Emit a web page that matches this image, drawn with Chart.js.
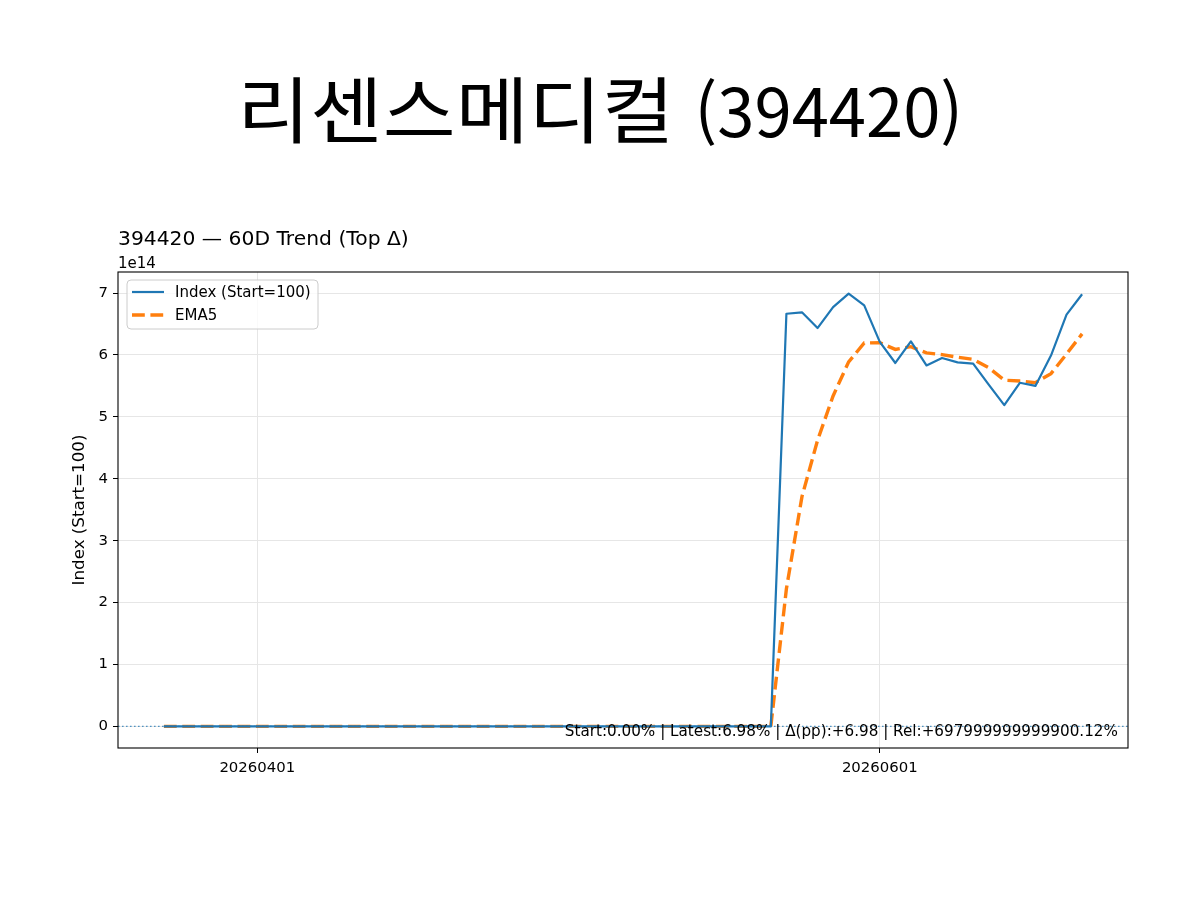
<!DOCTYPE html>
<html lang="ko">
<head>
<meta charset="utf-8">
<title>리센스메디컬 (394420)</title>
<script src="https://cdn.jsdelivr.net/npm/chart.js@4.4.1/dist/chart.umd.min.js"></script>
<style>
  html, body { margin: 0; padding: 0; background: #fff; }
  #wrap { position: relative; width: 1200px; height: 900px; overflow: hidden; }
  #chart { position: absolute; left: 0; top: 0; }
  #bigTitle {
    position: absolute; left: 0; top: 70px; width: 1200px; margin: 0;
    text-align: center; font-family: "Noto Sans CJK KR", sans-serif;
    font-weight: normal; font-size: 72px; line-height: 1; color: #000;
    white-space: nowrap;
  }
  #bigTitle .ko { display: inline-block; transform: scaleX(1.1); margin: 0 20px; }
  #bigTitle .num { font-size: 67px; }
</style>
</head>
<body>
<div id="wrap">
  <canvas id="chart" width="1200" height="900"></canvas>
  <h1 id="bigTitle"><span class="ko">리센스메디컬</span> <span class="num">(394420)</span></h1>
</div>
<script>
// trading days shown on the x axis
const dates = [
  '20260324', '20260325', '20260326', '20260327', '20260330', '20260331',
  '20260401', '20260402', '20260403', '20260406', '20260407', '20260408',
  '20260409', '20260410', '20260413', '20260414', '20260415', '20260416',
  '20260417', '20260420', '20260421', '20260422', '20260423', '20260424',
  '20260427', '20260428', '20260429', '20260430', '20260504', '20260506',
  '20260507', '20260508', '20260511', '20260512', '20260513', '20260514',
  '20260515', '20260518', '20260519', '20260520', '20260521', '20260522',
  '20260526', '20260527', '20260528', '20260529', '20260601', '20260602',
  '20260604', '20260605', '20260608', '20260609', '20260610', '20260611',
  '20260612', '20260615', '20260616', '20260617', '20260618', '20260619'
];
const tickDates = ['20260401', '20260601'];

const indexValues = [
  100, 100, 100, 100, 100, 100, 100, 100, 100, 100,
  100, 100, 100, 100, 100, 100, 100, 100, 100, 100,
  100, 100, 100, 100, 100, 100, 100, 100, 100, 100,
  100, 100, 100, 100, 100, 100, 100, 100, 100, 100,
  6.665e14, 6.688e14, 6.434e14, 6.773e14, 6.989e14, 6.80e14, 6.21e14, 5.87e14, 6.22e14, 5.83e14,
  5.95e14, 5.88e14, 5.86e14, 5.52e14, 5.19e14, 5.55e14, 5.50e14, 5.99e14, 6.65e14, 6.98e14
];
const ema5Values = [
  100, 100, 100, 100, 100, 100, 100, 100, 100, 100,
  100, 100, 100, 100, 100, 100, 100, 100, 100, 100,
  100, 100, 100, 100, 100, 100, 100, 100, 100, 100,
  100, 100, 100, 100, 100, 100, 100, 100, 100, 100,
  2.222e14, 3.711e14, 4.619e14, 5.337e14, 5.888e14, 6.192e14, 6.198e14, 6.089e14, 6.133e14, 6.032e14,
  6.005e14, 5.963e14, 5.929e14, 5.793e14, 5.592e14, 5.578e14, 5.552e14, 5.698e14, 6.015e14, 6.340e14
];
const baseValue = 100;
const yStep = 1e14;

const axesTitle = '394420 — 60D Trend (Top Δ)';
const offsetText = '1e14';
const statsText = 'Start:0.00% | Latest:6.98% | Δ(pp):+6.98 | Rel:+697999999999900.12%';
const seriesNames = ['Index (Start=100)', 'EMA5'];

const FONT = '"DejaVu Sans", sans-serif';
const BLUE = '#1f77b4';
const ORANGE = '#ff7f0e';

// extra matplotlib-like bits: base line, frame, titles, legend, stats text
const extras = {
    id: 'extras',
    afterDatasetsDraw(chart) {
        const { ctx, chartArea: a, scales } = chart;
        const yb = scales.y.getPixelForValue(baseValue);

        ctx.save();
        ctx.beginPath();
        ctx.rect(a.left, a.top, a.right - a.left, a.bottom - a.top);
        ctx.clip();
        ctx.strokeStyle = 'rgba(31,119,180,0.75)';
        ctx.lineWidth = 1.4;
        ctx.setLineDash([1.6, 2.4]);
        ctx.beginPath();
        ctx.moveTo(a.left, yb);
        ctx.lineTo(a.right, yb);
        ctx.stroke();
        ctx.restore();

        // frame
        ctx.save();
        ctx.strokeStyle = '#000';
        ctx.lineWidth = 1.1;
        ctx.strokeRect(a.left, a.top, a.right - a.left, a.bottom - a.top);
        ctx.restore();
    },
    afterDraw(chart) {
        const { ctx, chartArea: a } = chart;
        const w = a.right - a.left;
        const h = a.bottom - a.top;

        ctx.save();
        ctx.fillStyle = '#000';
        ctx.textAlign = 'left';
        ctx.textBaseline = 'alphabetic';
        ctx.font = '20.3px ' + FONT;
        ctx.fillText(axesTitle, a.left, a.top - 27);
        ctx.font = '15px ' + FONT;
        ctx.fillText(offsetText, a.left, a.top - 4);

        // stats line, bottom right
        ctx.font = '15.2px ' + FONT;
        ctx.textAlign = 'right';
        ctx.textBaseline = 'bottom';
        ctx.fillText(statsText, a.right - 0.01 * w, a.bottom - 0.02 * h + 1);

        // legend
        const lx = a.left + 9, ly = a.top + 8, lw = 191, lh = 49;
        ctx.beginPath();
        ctx.roundRect(lx, ly, lw, lh, 4);
        ctx.fillStyle = 'rgba(255,255,255,0.8)';
        ctx.fill();
        ctx.strokeStyle = '#cccccc';
        ctx.lineWidth = 1;
        ctx.stroke();

        const rows = [
            { color: BLUE, width: 2.2, dash: [] },
            { color: ORANGE, width: 3.4, dash: [12.8, 5.6] }
        ];
        rows.forEach((r, i) => {
            const yy = ly + 12 + i * 23;
            ctx.beginPath();
            ctx.strokeStyle = r.color;
            ctx.lineWidth = r.width;
            ctx.setLineDash(r.dash);
            ctx.moveTo(lx + 5, yy);
            ctx.lineTo(lx + 37, yy);
            ctx.stroke();
            ctx.setLineDash([]);
            ctx.fillStyle = '#000';
            ctx.font = '15px ' + FONT;
            ctx.textAlign = 'left';
            ctx.textBaseline = 'middle';
            ctx.fillText(seriesNames[i], lx + 48, yy + 1);
        });
        ctx.restore();
    }
};

const ctx = document.getElementById('chart').getContext('2d');
const chart = new Chart(ctx, {
    type: 'line',
    data: {
        datasets: [
            {
                label: seriesNames[0],
                data: indexValues.map((v, i) => ({ x: i, y: v })),
                borderColor: BLUE,
                borderWidth: 2.2,
                borderJoinStyle: 'round',
                pointRadius: 0,
                tension: 0
            },
            {
                label: seriesNames[1],
                data: ema5Values.map((v, i) => ({ x: i, y: v })),
                borderColor: ORANGE,
                borderWidth: 3.4,
                borderDash: [12.8, 5.6],
                pointRadius: 0,
                tension: 0
            }
        ]
    },
    options: {
        responsive: false,
        animation: false,
        devicePixelRatio: 1,
        layout: { padding: { top: 272, left: 70, right: 72, bottom: 92 } },
        plugins: {
            legend: { display: false },
            tooltip: { enabled: false }
        },
        scales: {
            x: {
                type: 'linear',
                min: -2.95,
                max: dates.length - 1 + 2.95,
                afterBuildTicks(scale) {
                    scale.ticks = tickDates.map(d => ({ value: dates.indexOf(d) }));
                },
                afterFit(scale) { scale.height = 60; },
                ticks: {
                    autoSkip: false,
                    maxRotation: 0,
                    padding: 6,
                    color: '#000',
                    font: { family: FONT, size: 14.9 },
                    callback: v => dates[v]
                },
                grid: { color: '#e6e6e6', lineWidth: 1, tickColor: '#000', tickLength: 5, tickWidth: 1 },
                border: { display: false }
            },
            y: {
                min: -0.3495e14,
                max: 7.3395e14,
                afterBuildTicks(scale) {
                    const ticks = [];
                    for (let k = Math.ceil(scale.min / yStep); k * yStep <= scale.max; k++) {
                        ticks.push({ value: k * yStep });
                    }
                    scale.ticks = ticks;
                },
                afterFit(scale) { scale.width = 48; },
                ticks: {
                    padding: 5,
                    color: '#000',
                    font: { family: FONT, size: 14.9 },
                    callback: v => String(Math.round(v / yStep))
                },
                title: {
                    display: true,
                    text: 'Index (Start=100)',
                    color: '#000',
                    padding: 0,
                    font: { family: FONT, size: 16.7 }
                },
                grid: { color: '#e6e6e6', lineWidth: 1, tickColor: '#000', tickLength: 5, tickWidth: 1 },
                border: { display: false }
            }
        }
    },
    plugins: [extras]
});
</script>
</body>
</html>
